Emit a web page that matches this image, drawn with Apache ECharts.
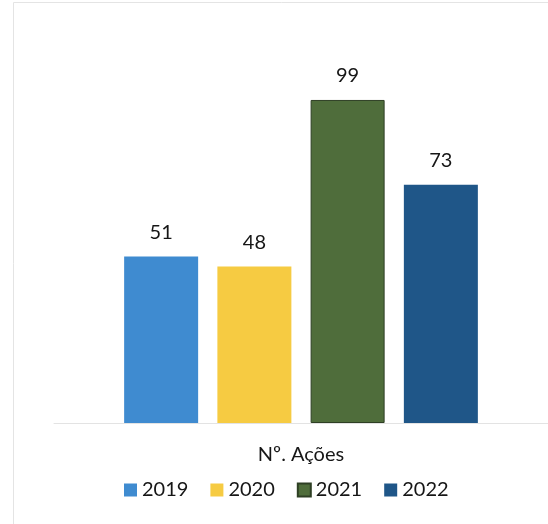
<!DOCTYPE html>
<html>
<head>
<meta charset="utf-8">
<script src="https://cdn.jsdelivr.net/npm/echarts@6/dist/echarts.min.js"></script>
<style>
  html, body { margin: 0; padding: 0; background: #ffffff; }
  #chart { width: 548px; height: 524px; }
</style>
</head>
<body>
<div id="chart"></div>
<script>
// Number of actions per year
const categories = ['Nº. Ações'];
const years = ['2019', '2020', '2021', '2022'];
const values = [51, 48, 99, 73];
const colors = ['#3f8bd0', '#f6cb42', '#4f6d3b', '#1f5688'];
const borders = ['#3f8bd0', '#f6cb42', '#2e3f24', '#1c4f7e'];

const FONT = 'Lato, "Noto Sans", sans-serif';

const series = years.map((y, i) => ({
  name: y,
  type: 'bar',
  data: [values[i]],
  barWidth: 74,
  barGap: '26%',
  itemStyle: { color: colors[i], borderColor: borders[i], borderWidth: i === 2 ? 1 : 0 },
  label: {
    show: true,
    position: 'top',
    distance: 14,
    color: '#161616',
    fontFamily: FONT,
    fontSize: 20
  }
}));

const chart = echarts.init(document.getElementById('chart'), null, { renderer: 'canvas' });
chart.setOption({
  backgroundColor: '#ffffff',
  animation: false,
  color: colors,
  grid: { left: 54, right: 0, top: 96.7, bottom: 101 },
  xAxis: {
    type: 'category',
    data: categories,
    axisLine: { show: true, lineStyle: { color: '#e3e3e3', width: 1 } },
    axisTick: { show: false },
    axisLabel: { color: '#161616', fontFamily: FONT, fontSize: 20, margin: 22 }
  },
  yAxis: {
    type: 'value',
    min: 0,
    max: 100,
    show: false,
    splitLine: { show: false }
  },
  legend: {
    data: years,
    left: 119,
    top: 475,
    itemWidth: 13,
    itemHeight: 13,
    itemGap: 22,
    icon: 'rect',
    textStyle: { color: '#161616', fontFamily: FONT, fontSize: 20 }
  },
  graphic: [{
    type: 'rect',
    shape: { x: 13.5, y: 2.5, width: 560, height: 560 },
    style: { fill: 'none', stroke: '#e4e4e4', lineWidth: 1 },
    silent: true
  }],
  series: series
});
</script>
</body>
</html>
